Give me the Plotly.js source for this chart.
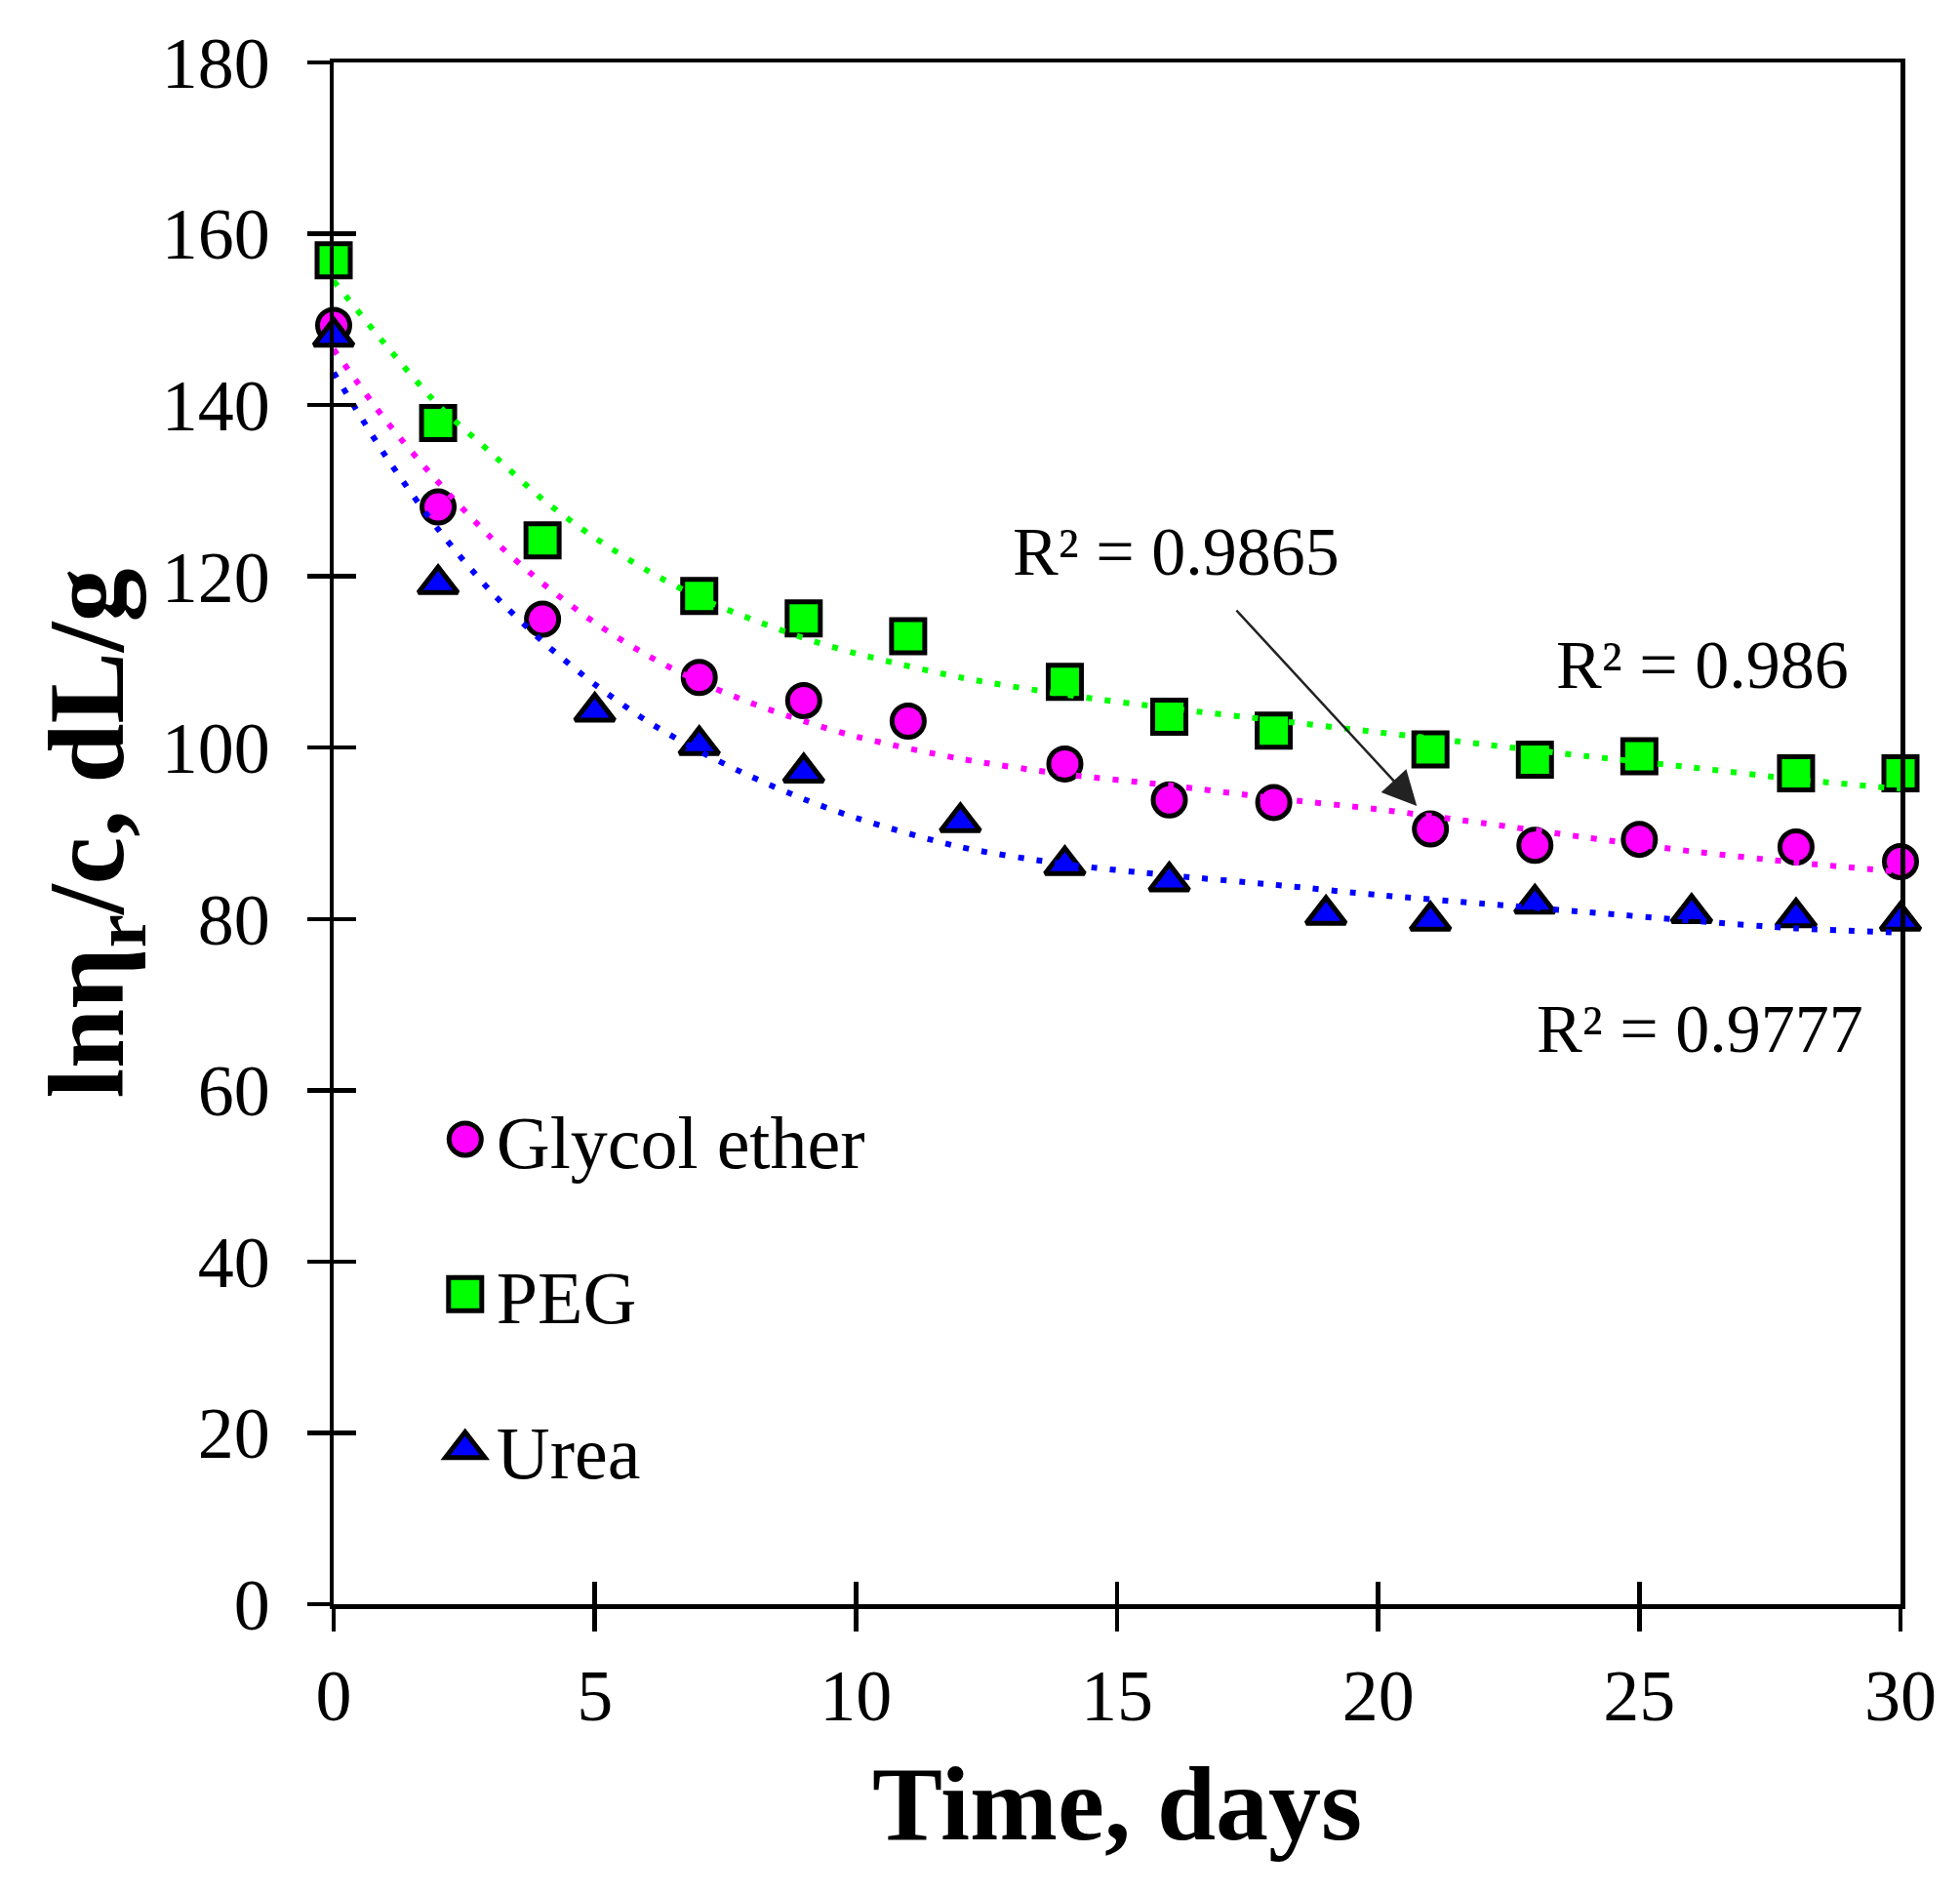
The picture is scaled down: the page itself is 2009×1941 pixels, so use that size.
<!DOCTYPE html>
<html>
<head>
<meta charset="utf-8">
<script src="https://cdn.plot.ly/plotly-3.0.1.min.js"></script>
<style>
  html, body { margin: 0; padding: 0; background: #ffffff; }
  #chart { width: 2009px; height: 1941px; }
</style>
</head>
<body>
<div id="chart"></div>
<script>
// ---- data ----
const daysGE   = [0, 2, 4, 7, 9, 11, 14, 16, 18, 21, 23, 25, 28, 30];
const glycolEther = [149.3, 128.1, 115.0, 108.2, 105.5, 103.1, 98.1, 93.9, 93.6, 90.5, 88.6, 89.3, 88.4, 86.7];

const daysPEG  = [0, 2, 4, 7, 9, 11, 14, 16, 18, 21, 23, 25, 28, 30];
const peg      = [156.9, 137.9, 124.2, 117.7, 115.1, 113.0, 107.7, 103.6, 102.0, 99.8, 98.6, 99.0, 97.0, 97.0];

const daysUrea = [0, 2, 5, 7, 9, 12, 14, 16, 19, 21, 23, 26, 28, 30];
const urea     = [148.0, 119.1, 104.2, 100.3, 97.1, 91.3, 86.3, 84.4, 80.5, 79.8, 81.8, 80.7, 80.2, 79.8];

// trend lines (dotted)
const trendDays = [0, 1, 2, 3, 4, 5, 6, 7, 8, 9, 10, 12, 14, 16, 18, 20, 22, 24, 26, 28, 30];
const pegTrend  = [154.5, 147.0, 140.0, 134.5, 129.0, 124.5, 120.7, 117.5, 115.0, 112.8, 111.0, 108.2, 106.2, 104.6, 103.2, 101.8, 100.4, 99.0, 97.7, 96.3, 95.2];
const geTrend   = [146.5, 138.2, 131.0, 124.6, 119.2, 114.6, 110.8, 107.7, 105.2, 103.1, 101.3, 98.7, 96.9, 95.6, 94.1, 92.8, 91.2, 89.5, 87.9, 86.6, 85.5];
const ureaTrend = [143.8, 134.0, 125.5, 118.3, 112.4, 107.4, 103.1, 99.6, 96.6, 94.0, 91.8, 88.4, 86.4, 85.1, 84.0, 82.8, 81.8, 80.8, 79.8, 78.9, 78.4];

const seriesNames = ['Glycol ether', 'PEG', 'Urea'];
const r2Labels = ['R\u00B2 = 0.9865', 'R\u00B2 = 0.986', 'R\u00B2 = 0.9777'];
const xTickVals = [0, 5, 10, 15, 20, 25, 30];
const yTickVals = [0, 20, 40, 60, 80, 100, 120, 140, 160, 180];

// ---- styling ----
const FONT = 'Liberation Serif, Times New Roman, serif';
const MAGENTA = '#ff00ff', GREEN = '#00ff00', BLUE = '#0000ff';
const dotDash = '6px,13px';
const MLW = 5;
const SIZES = [33, 34, 35];

function markerTrace(x, y, name, symbol, color, size) {
  return {
    type: 'scatter', mode: 'markers', x: x, y: y, name: name,
    legendgroup: name, cliponaxis: false,
    marker: { symbol: symbol, color: color, size: size, line: { color: '#000', width: MLW } }
  };
}
function trendTrace(y, color) {
  return {
    type: 'scatter', mode: 'lines', x: trendDays, y: y, showlegend: false,
    cliponaxis: false, hoverinfo: 'skip',
    line: { color: color, width: 6, dash: dotDash, shape: 'spline', smoothing: 0.8 }
  };
}

const data = [
  markerTrace(daysGE, glycolEther, seriesNames[0], 'circle', MAGENTA, SIZES[0]),
  markerTrace(daysPEG, peg, seriesNames[1], 'square', GREEN, SIZES[1]),
  markerTrace(daysUrea, urea, seriesNames[2], 'triangle-up', BLUE, SIZES[2]),
  trendTrace(pegTrend, GREEN),
  trendTrace(geTrend, MAGENTA),
  trendTrace(ureaTrend, BLUE),
  // invisible trace binding overlay axes (used for inward half of cross ticks)
  { type: 'scatter', mode: 'markers', x: [], y: [], xaxis: 'x2', yaxis: 'y2', showlegend: false }
];

const axisCommon = {
  showgrid: false, zeroline: false,
  linecolor: '#000', linewidth: 4.5,
  ticks: 'outside', ticklen: 23, tickwidth: 4.5, tickcolor: '#000',
  tickfont: { family: FONT, size: 74, color: '#000' },
  automargin: false
};

const layout = {
  width: 2009, height: 1941,
  paper_bgcolor: '#fff', plot_bgcolor: '#fff',
  margin: { l: 342, r: 61, t: 64, b: 297, pad: 0 },
  font: { family: FONT, color: '#000' },
  showlegend: true,
  xaxis: Object.assign({}, axisCommon, {
    range: [0, 30], tickvals: xTickVals, mirror: true,
    ticklabelstandoff: 3,
    title: { text: 'Time, days', font: { family: FONT, size: 108, weight: 'bold', color: '#000' }, standoff: 32 }
  }),
  yaxis: Object.assign({}, axisCommon, {
    range: [0, 180], tickvals: yTickVals, mirror: true,
    ticklabelstandoff: 23,
    title: { text: 'ln\u03B7<sub>r</sub>/c, dL/g', font: { family: FONT, size: 110, weight: 'bold', color: '#000' }, standoff: 0 }
  }),
  xaxis2: {
    overlaying: 'x', anchor: 'y2', range: [0, 30], tickvals: xTickVals,
    showgrid: false, zeroline: false, showline: false, showticklabels: false,
    ticks: 'inside', ticklen: 23, tickwidth: 4.5, tickcolor: '#000'
  },
  yaxis2: {
    overlaying: 'y', anchor: 'x2', side: 'left', range: [0, 180], tickvals: yTickVals,
    showgrid: false, zeroline: false, showline: false, showticklabels: false,
    ticks: 'inside', ticklen: 23, tickwidth: 4.5, tickcolor: '#000'
  },
  legend: {
    x: 0.064, xanchor: 'left', y: 0.337, yanchor: 'top',
    bgcolor: 'rgba(0,0,0,0)', borderwidth: 0,
    font: { family: FONT, size: 76, color: '#000' },
    tracegroupgap: 57, itemwidth: 54
  },
  annotations: [
    { x: 12.96, y: 122.9, xref: 'x', yref: 'y', text: r2Labels[0], showarrow: false,
      xanchor: 'left', yanchor: 'middle', font: { family: FONT, size: 70, color: '#000' } },
    { x: 23.37, y: 109.6, xref: 'x', yref: 'y', text: r2Labels[1], showarrow: false,
      xanchor: 'left', yanchor: 'middle', font: { family: FONT, size: 70, color: '#000' } },
    { x: 23.0, y: 67.2, xref: 'x', yref: 'y', text: r2Labels[2], showarrow: false,
      xanchor: 'left', yanchor: 'middle', font: { family: FONT, size: 70, color: '#000' } },
    { x: 20.74, y: 93.2, xref: 'x', yref: 'y', ax: 17.26, ay: 116.2, axref: 'x', ayref: 'y',
      text: '', showarrow: true, arrowhead: 2, arrowsize: 2.8, arrowwidth: 2.5, arrowcolor: '#222', standoff: 0 }
  ]
};

Plotly.newPlot('chart', data, layout, { staticPlot: true, displayModeBar: false }).then(function (gd) {
  // enlarge legend symbols to match the plotted marker size
  gd.querySelectorAll('.legend .traces').forEach(function (tr, i) {
    const s = (SIZES[i] || 32) / 16;
    tr.querySelectorAll('path.scatterpts').forEach(function (p) {
      const t = p.getAttribute('transform') || '';
      p.setAttribute('transform', t + ' scale(' + s + ')');
      p.style.strokeWidth = (MLW / s) + 'px';
    });
  });
});
</script>
</body>
</html>
